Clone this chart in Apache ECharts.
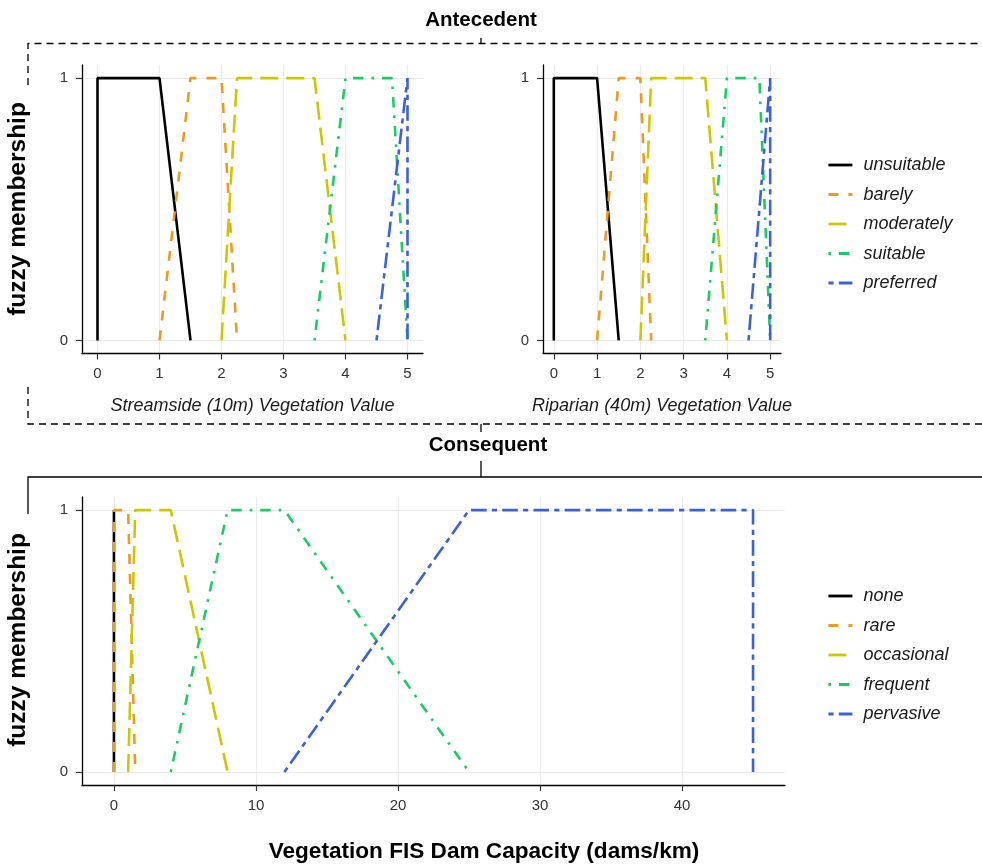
<!DOCTYPE html>
<html>
<head>
<meta charset="utf-8">
<script src="https://cdn.jsdelivr.net/npm/echarts@6/dist/echarts.min.js"></script>
<style>
html,body{margin:0;padding:0;background:#fff;}
#chart{width:982px;height:864px;}
</style>
</head>
<body>
<div id="chart"></div>
<script>
// ---- Data ----
const anteNames = ['unsuitable', 'barely', 'moderately', 'suitable', 'preferred'];
const unsuitableX = [0, 0, 1, 1.5];
const barelyX = [1, 1.5, 2, 2.25];
const moderatelyX = [2, 2.25, 3.5, 4];
const suitableX = [3.5, 4, 4.75, 5];
const preferredX = [4.5, 5, 5, 5];

const conseNames = ['none', 'rare', 'occasional', 'frequent', 'pervasive'];
const noneX = [0, 0, 0, 0];
const rareX = [0, 0, 1, 1.5];
const occasionalX = [1, 1.5, 4, 8];
const frequentX = [4, 8, 12, 25];
const pervasiveX = [12, 25, 45, 45];

const membershipY = [0, 1, 1, 0];

const anteTicks = [0, 1, 2, 3, 4, 5];
const conseTicks = [0, 10, 20, 30, 40];
const yTicks = [0, 1];

// ---- Styles ----
const colors = ['#000000', '#EE9A1E', '#CCC800', '#19CC65', '#3A62D6'];
const LW = 2.6;
const dashes = ['solid', [10, 10], [18, 8], [2.6, 8, 10.4, 8], [5.2, 5.2, 15.6, 5.2]];
const FONT = 'Liberation Sans, Arial, sans-serif';

const anteXs = [unsuitableX, barelyX, moderatelyX, suitableX, preferredX];
const conseXs = [noneX, rareX, occasionalX, frequentX, pervasiveX];

function pts(xs) { return xs.map((x, i) => [x, membershipY[i]]); }

function xAxisCfg(gridIndex, min, max, ticks, name) {
  return {
    type: 'value', gridIndex, min, max,
    position: 'bottom',
    axisLine: { show: true, onZero: false, lineStyle: { color: '#000', width: 1.3 } },
    axisTick: { show: true, length: 6, customValues: ticks, lineStyle: { color: '#333', width: 1.2 } },
    axisLabel: { customValues: ticks, margin: 13, color: '#333', fontSize: 15, fontFamily: FONT },
    splitLine: { show: true, lineStyle: { color: '#EBEBEB', width: 1 } },
    name: name || '',
    nameLocation: 'middle', nameGap: 43,
    nameTextStyle: { fontSize: 18, fontStyle: 'italic', color: '#1a1a1a', fontFamily: FONT }
  };
}
function yAxisCfg(gridIndex) {
  return {
    type: 'value', gridIndex, min: -0.05, max: 1.05,
    axisLine: { show: true, onZero: false, lineStyle: { color: '#000', width: 1.3 } },
    axisTick: { show: true, length: 6, customValues: yTicks, lineStyle: { color: '#333', width: 1.2 } },
    axisLabel: { customValues: yTicks, margin: 14, color: '#333', fontSize: 15, fontFamily: FONT },
    splitLine: { show: true, lineStyle: { color: '#EBEBEB', width: 1 } }
  };
}

const series = [];
[0, 1].forEach(g => {
  anteNames.forEach((n, i) => {
    series.push({
      type: 'line', name: n, xAxisIndex: g, yAxisIndex: g,
      data: pts(anteXs[i]), showSymbol: false, symbol: 'none', animation: false,
      lineStyle: { color: colors[i], width: LW, type: dashes[i] },
      itemStyle: { color: colors[i] }
    });
  });
});
conseNames.forEach((n, i) => {
  series.push({
    type: 'line', name: n, xAxisIndex: 2, yAxisIndex: 2,
    data: pts(conseXs[i]), showSymbol: false, symbol: 'none', animation: false,
    lineStyle: { color: colors[i], width: LW, type: dashes[i] },
    itemStyle: { color: colors[i] }
  });
});

function legendCfg(names, top) {
  return {
    data: names, orient: 'vertical', left: 827, top, padding: 0,
    itemWidth: 24, itemHeight: 18, itemGap: 11.5,
    selectedMode: false,
    itemStyle: { opacity: 0, borderWidth: 0 },
    lineStyle: { width: 2.8 },
    textStyle: { fontSize: 18, fontStyle: 'italic', color: '#1a1a1a', fontFamily: FONT, padding: [0, 0, 0, 6], lineHeight: 18 }
  };
}

const dashedBorder = { stroke: '#000', lineWidth: 1.3, lineDash: [7, 5] };
const solidBorder = { stroke: '#000', lineWidth: 1.3 };

const option = {
  backgroundColor: '#fff',
  animation: false,
  grid: [
    { left: 82, top: 65, width: 341, height: 288.5 },
    { left: 543, top: 65, width: 238, height: 288.5 },
    { left: 82, top: 497, width: 703, height: 288 }
  ],
  xAxis: [
    xAxisCfg(0, -0.25, 5.25, anteTicks, 'Streamside (10m) Vegetation Value'),
    xAxisCfg(1, -0.25, 5.25, anteTicks, 'Riparian (40m) Vegetation Value'),
    xAxisCfg(2, -2.25, 47.25, conseTicks, '')
  ],
  yAxis: [yAxisCfg(0), yAxisCfg(1), yAxisCfg(2)],
  legend: [legendCfg(anteNames, 156), legendCfg(conseNames, 587)],
  series,
  graphic: [
    { type: 'text', style: { x: 481, y: 20, text: 'Antecedent', font: 'bold 20.5px Liberation Sans', fill: '#000', align: 'center', verticalAlign: 'middle' } },
    { type: 'polyline', shape: { points: [[28, 85], [28, 43.5], [982, 43.5]] }, style: Object.assign({ fill: null }, dashedBorder) },
    { type: 'line', shape: { x1: 481, y1: 38, x2: 481, y2: 43.5 }, style: solidBorder },
    { type: 'polyline', shape: { points: [[28, 387], [28, 424], [982, 424]] }, style: Object.assign({ fill: null }, dashedBorder) },
    { type: 'line', shape: { x1: 481, y1: 424, x2: 481, y2: 432 }, style: solidBorder },
    { type: 'text', style: { x: 488, y: 445, text: 'Consequent', font: 'bold 20.5px Liberation Sans', fill: '#000', align: 'center', verticalAlign: 'middle' } },
    { type: 'polyline', shape: { points: [[28, 514], [28, 477], [982, 477]] }, style: Object.assign({ fill: null }, solidBorder) },
    { type: 'line', shape: { x1: 481, y1: 461, x2: 481, y2: 477 }, style: solidBorder },
    { type: 'text', x: 18, y: 209, rotation: Math.PI / 2, style: { x: 0, y: 0, text: 'fuzzy membership', font: 'bold 24.5px Liberation Sans', fill: '#000', align: 'center', verticalAlign: 'middle', backgroundColor: '#fff' } },
    { type: 'text', x: 18, y: 640, rotation: Math.PI / 2, style: { x: 0, y: 0, text: 'fuzzy membership', font: 'bold 24.5px Liberation Sans', fill: '#000', align: 'center', verticalAlign: 'middle', backgroundColor: '#fff' } },
    { type: 'text', style: { x: 484, y: 852, text: 'Vegetation FIS Dam Capacity (dams/km)', font: 'bold 22.6px Liberation Sans', fill: '#000', align: 'center', verticalAlign: 'middle' } }
  ]
};

const chart = echarts.init(document.getElementById('chart'), null, { renderer: 'canvas' });
chart.setOption(option);
</script>
</body>
</html>
